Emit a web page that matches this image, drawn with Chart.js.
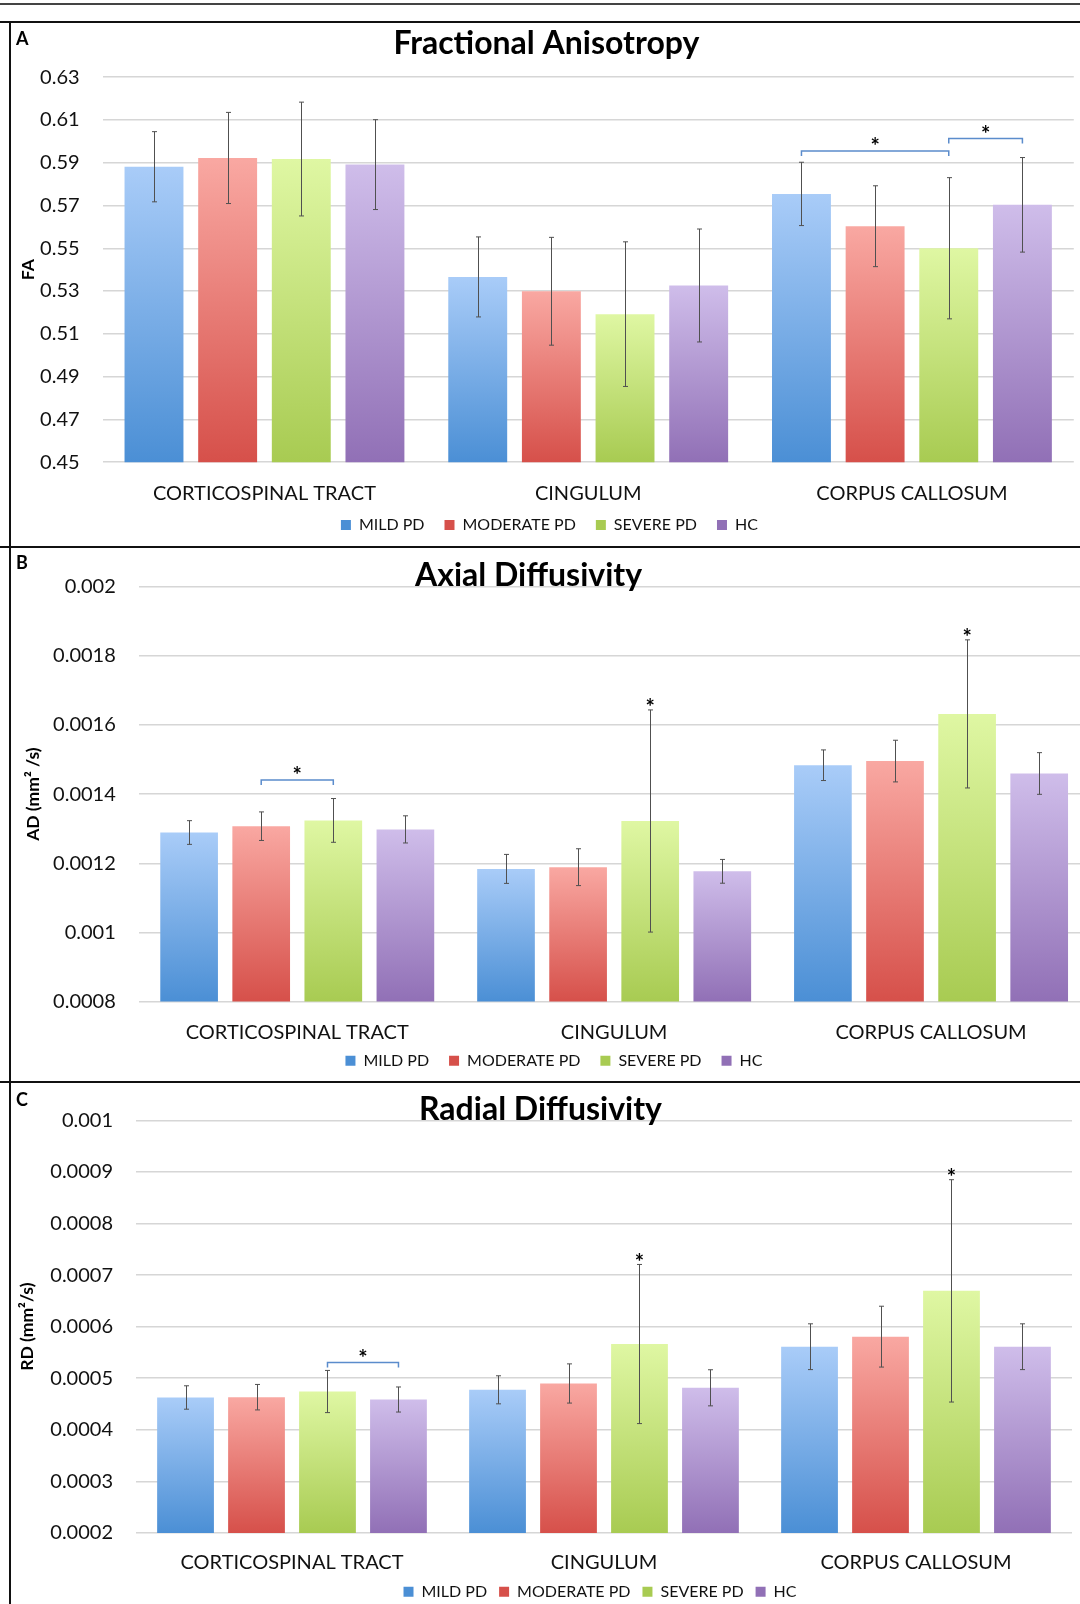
<!DOCTYPE html>
<html>
<head>
<meta charset="utf-8">
<title>DTI metrics by PD severity</title>
<script src="https://cdn.jsdelivr.net/npm/chart.js@4.4.1/dist/chart.umd.min.js"></script>
<style>
    html, body { margin: 0; padding: 0; background: #ffffff; }
    body { position: relative; width: 1080px; height: 1604px; overflow: hidden; font-family: Lato, sans-serif; }
    .rule { position: absolute; left: 0; width: 1080px; height: 2px; background: #111; }
    .side { position: absolute; left: 9px; top: 21px; width: 2px; height: 1600px; background: #111; }
    .letter { position: absolute; left: 16px; z-index: 2; font-weight: 700; font-size: 18px; line-height: 18px; color: #000; }
    canvas { position: absolute; left: 11px; }
</style>
</head>
<body>

<div class="rule" style="top:3px; background:#444"></div>
<div class="rule" style="top:21px"></div>
<div class="rule" style="top:546px"></div>
<div class="rule" style="top:1081px"></div>
<div class="side"></div>

<div class="letter" style="top:29px">A</div>
<div class="letter" style="top:553px">B</div>
<div class="letter" style="top:1090px">C</div>

<canvas id="faChart" width="1100" height="540" style="top:23px"></canvas>
<canvas id="adChart" width="1100" height="553" style="top:548px"></canvas>
<canvas id="rdChart" width="1100" height="540" style="top:1083px"></canvas>

<script>
const categories = ["CORTICOSPINAL TRACT", "CINGULUM", "CORPUS CALLOSUM"];
const groups = ["MILD PD", "MODERATE PD", "SEVERE PD", "HC"];

// fractional anisotropy: means and SDs per tract
const faMild = [0.5881, 0.5366, 0.5754];
const faModerate = [0.5922, 0.5299, 0.5603];
const faSevere = [0.5917, 0.5192, 0.5500];
const faHc = [0.5891, 0.5326, 0.5703];
const faMildSd = [0.0164, 0.0187, 0.0148];
const faModerateSd = [0.0213, 0.0252, 0.0189];
const faSevereSd = [0.0266, 0.0338, 0.0330];
const faHcSd = [0.0210, 0.0264, 0.0221];
const faTicks = [0.45, 0.47, 0.49, 0.51, 0.53, 0.55, 0.57, 0.59, 0.61, 0.63];

// axial diffusivity (mm2/s)
const adMild = [0.001289, 0.0011837, 0.0014837];
const adModerate = [0.0013073, 0.0011887, 0.0014957];
const adSevere = [0.001324, 0.0013223, 0.0016322];
const adHc = [0.001298, 0.0011767, 0.0014598];
const adMildSd = [0.0000343, 0.0000419, 0.0000443];
const adModerateSd = [0.0000413, 0.0000533, 0.0000603];
const adSevereSd = [0.0000633, 0.0003214, 0.0002143];
const adHcSd = [0.0000393, 0.0000344, 0.0000603];
const adTicks = [0.0008, 0.001, 0.0012, 0.0014, 0.0016, 0.0018, 0.002];

// radial diffusivity (mm2/s)
const rdMild = [0.0004626, 0.0004775, 0.0005611];
const rdModerate = [0.0004632, 0.0004898, 0.0005806];
const rdSevere = [0.0004742, 0.0005663, 0.0006694];
const rdHc = [0.0004587, 0.0004814, 0.0005611];
const rdMildSd = [0.0000227, 0.0000272, 0.0000444];
const rdModerateSd = [0.0000247, 0.000038, 0.000059];
const rdSevereSd = [0.0000409, 0.0001543, 0.0002156];
const rdHcSd = [0.0000243, 0.000035, 0.0000444];
const rdTicks = [0.0002, 0.0003, 0.0004, 0.0005, 0.0006, 0.0007, 0.0008, 0.0009, 0.001];

// significance marks: [tract, from group, to group, bracket value] and [tract, group]
const faBrackets = [[2, 0, 2, 0.5955], [2, 2, 3, 0.6013]];
const faStars = [];
const adBrackets = [[0, 1, 2, 0.001441]];
const adStars = [[1, 2], [2, 2]];
const rdBrackets = [[0, 2, 3, 0.0005306]];
const rdStars = [[1, 2], [2, 2]];

const palette = [
    { top: "#a9ccf8", bottom: "#4b8fd5", legend: "#6a9fe0" },
    { top: "#f9a8a2", bottom: "#d6504a", legend: "#e8736a" },
    { top: "#dff7a3", bottom: "#a8cb52", legend: "#bde07a" },
    { top: "#cfbdea", bottom: "#9170b6", legend: "#a68ad0" }
];

const TITLE_SIZE = 32;

Chart.defaults.font.family = "Lato";

function barFill(colors) {

    return (context) => {

        if (context.type !== "data") return colors.legend;

        const chart = context.chart;
        const area = chart.chartArea;
        const y = chart.scales.y;

        if (!area || !y) return colors.bottom;

        const top = y.getPixelForValue(context.raw);
        const g = chart.ctx.createLinearGradient(0, top, 0, area.bottom);
        g.addColorStop(0, colors.top);
        g.addColorStop(1, colors.bottom);
        return g;

    };

}

function marks(p) {

    return {

        id: "marks",

        // nudge title and legend to where the original figure had them
        afterLayout(chart) {
            const L = p.layout;
            chart.titleBlock.left += L.titleShift;
            chart.titleBlock.right += L.titleShift;
            chart.legend.left += L.legendShift;
            chart.legend.right += L.legendShift;
            chart.legend.top += L.legendShiftY;
            chart.legend.bottom += L.legendShiftY;
        },

        afterDatasetsDraw(chart) {

            const ctx = chart.ctx;
            const y = chart.scales.y;
            const barX = (c, s) => chart.getDatasetMeta(s).data[c].x;

            const star = (x, cy) => {
                ctx.fillText("*", x, cy + 12.5);
            };

            ctx.save();

            // error bars
            ctx.strokeStyle = "#505050";
            ctx.lineWidth = 1;

            chart.data.datasets.forEach((ds, s) => {
                chart.getDatasetMeta(s).data.forEach((bar, c) => {
                    const hi = y.getPixelForValue(ds.data[c] + ds.errors[c]);
                    const lo = y.getPixelForValue(ds.data[c] - ds.errors[c]);
                    const x = Math.round(bar.x) + 0.5;
                    ctx.beginPath();
                    ctx.moveTo(x, hi);
                    ctx.lineTo(x, lo);
                    ctx.moveTo(x - 2.5, hi);
                    ctx.lineTo(x + 2.5, hi);
                    ctx.moveTo(x - 2.5, lo);
                    ctx.lineTo(x + 2.5, lo);
                    ctx.stroke();
                });
            });

            // brackets and stars
            ctx.strokeStyle = "#5b8ccc";
            ctx.lineWidth = 1.5;
            ctx.fillStyle = "#000";
            ctx.font = "700 22px Lato";
            ctx.textAlign = "center";
            ctx.textBaseline = "alphabetic";

            p.brackets.forEach(([c, a, b, v]) => {
                const x1 = barX(c, a);
                const x2 = barX(c, b);
                const yb = y.getPixelForValue(v);
                ctx.beginPath();
                ctx.moveTo(x1, yb + 5);
                ctx.lineTo(x1, yb);
                ctx.lineTo(x2, yb);
                ctx.lineTo(x2, yb + 5);
                ctx.stroke();
                star((x1 + x2) / 2, yb - 9);
            });

            p.stars.forEach(([c, s]) => {
                const ds = chart.data.datasets[s];
                const top = y.getPixelForValue(ds.data[c] + ds.errors[c]);
                star(barX(c, s), top - 7);
            });

            ctx.restore();

        }

    };

}

function buildChart(p) {

    const L = p.layout;
    const halfTitle = TITLE_SIZE * 0.6;

    const datasets = groups.map((name, i) => ({
        label: name,
        data: p.series[i],
        errors: p.errors[i],
        backgroundColor: barFill(palette[i]),
        borderWidth: 0,
        categoryPercentage: 0.91,
        barPercentage: 0.8
    }));

    new Chart(document.getElementById(p.id), {

        type: "bar",

        data: { labels: categories, datasets: datasets },

        options: {

            responsive: false,
            animation: false,
            events: [],

            layout: { padding: { left: 0, right: L.right, top: 0, bottom: L.bottom } },

            plugins: {

                title: {
                    display: true,
                    text: p.title,
                    color: "#000",
                    font: { size: TITLE_SIZE, weight: "700", lineHeight: 1.2 },
                    padding: { top: L.titleY - halfTitle, bottom: L.top - L.titleY - halfTitle }
                },

                legend: {
                    position: "bottom",
                    labels: {
                        boxWidth: 10,
                        boxHeight: 10,
                        padding: L.legendPad,
                        color: "#111",
                        font: { size: 16 }
                    }
                },

                tooltip: { enabled: false }

            },

            scales: {

                x: {
                    grid: { display: false, drawTicks: false },
                    border: { display: false },
                    ticks: { padding: L.labelGap, color: "#111", font: { size: 20 } },
                    afterFit: (s) => { s.height = L.axisH; }
                },

                y: {
                    min: p.ticks[0],
                    max: p.ticks[p.ticks.length - 1],
                    afterBuildTicks: (s) => { s.ticks = p.ticks.map(v => ({ value: v })); },
                    grid: { color: "#d6d6d6", lineWidth: 1.5, drawTicks: false },
                    border: { display: false },
                    ticks: { padding: 23, color: "#111", font: { size: 20 }, callback: (v) => String(v) },
                    title: {
                        display: true,
                        text: p.axisTitle,
                        color: "#000",
                        font: { size: 17.5, weight: "700" },
                        padding: { top: L.axisTitlePad, bottom: 0 }
                    },
                    afterFit: (s) => { s.width = L.left; }
                }

            }

        },

        plugins: [marks(p)]

    });

}

const panels = [
    {
        id: "faChart",
        title: "Fractional Anisotropy",
        axisTitle: "FA",
        series: [faMild, faModerate, faSevere, faHc],
        errors: [faMildSd, faModerateSd, faSevereSd, faHcSd],
        ticks: faTicks,
        brackets: faBrackets,
        stars: faStars,
        layout: { left: 91.6, right: 37.2, top: 54.1, titleY: 21, labelGap: 19.8, axisH: 46.4,
                  legendPad: 20, bottom: 8.4, axisTitlePad: 7,
                  titleShift: 4, legendShift: 7, legendShiftY: -11.6 }
    },
    {
        id: "adChart",
        title: "Axial Diffusivity",
        axisTitle: "AD (mm² /s)",
        series: [adMild, adModerate, adSevere, adHc],
        errors: [adMildSd, adModerateSd, adSevereSd, adHcSd],
        ticks: adTicks,
        brackets: adBrackets,
        stars: adStars,
        layout: { left: 127.8, right: 21.5, top: 38.8, titleY: 27.3, labelGap: 19.0, axisH: 45.6,
                  legendPad: 20, bottom: 7.9, axisTitlePad: 12,
                  titleShift: -21.7, legendShift: 3.7, legendShiftY: -14.4 }
    },
    {
        id: "rdChart",
        title: "Radial Diffusivity",
        axisTitle: "RD (mm²/s)",
        series: [rdMild, rdModerate, rdSevere, rdHc],
        errors: [rdMildSd, rdModerateSd, rdSevereSd, rdHcSd],
        ticks: rdTicks,
        brackets: rdBrackets,
        stars: rdStars,
        layout: { left: 125, right: 39, top: 37.4, titleY: 26.3, labelGap: 18.1, axisH: 44.7,
                  legendPad: 12, bottom: 7.4, axisTitlePad: 6,
                  titleShift: -1, legendShift: 58.5, legendShiftY: -5.9 }
    }
];

panels.forEach(buildChart);
</script>
</body>
</html>
